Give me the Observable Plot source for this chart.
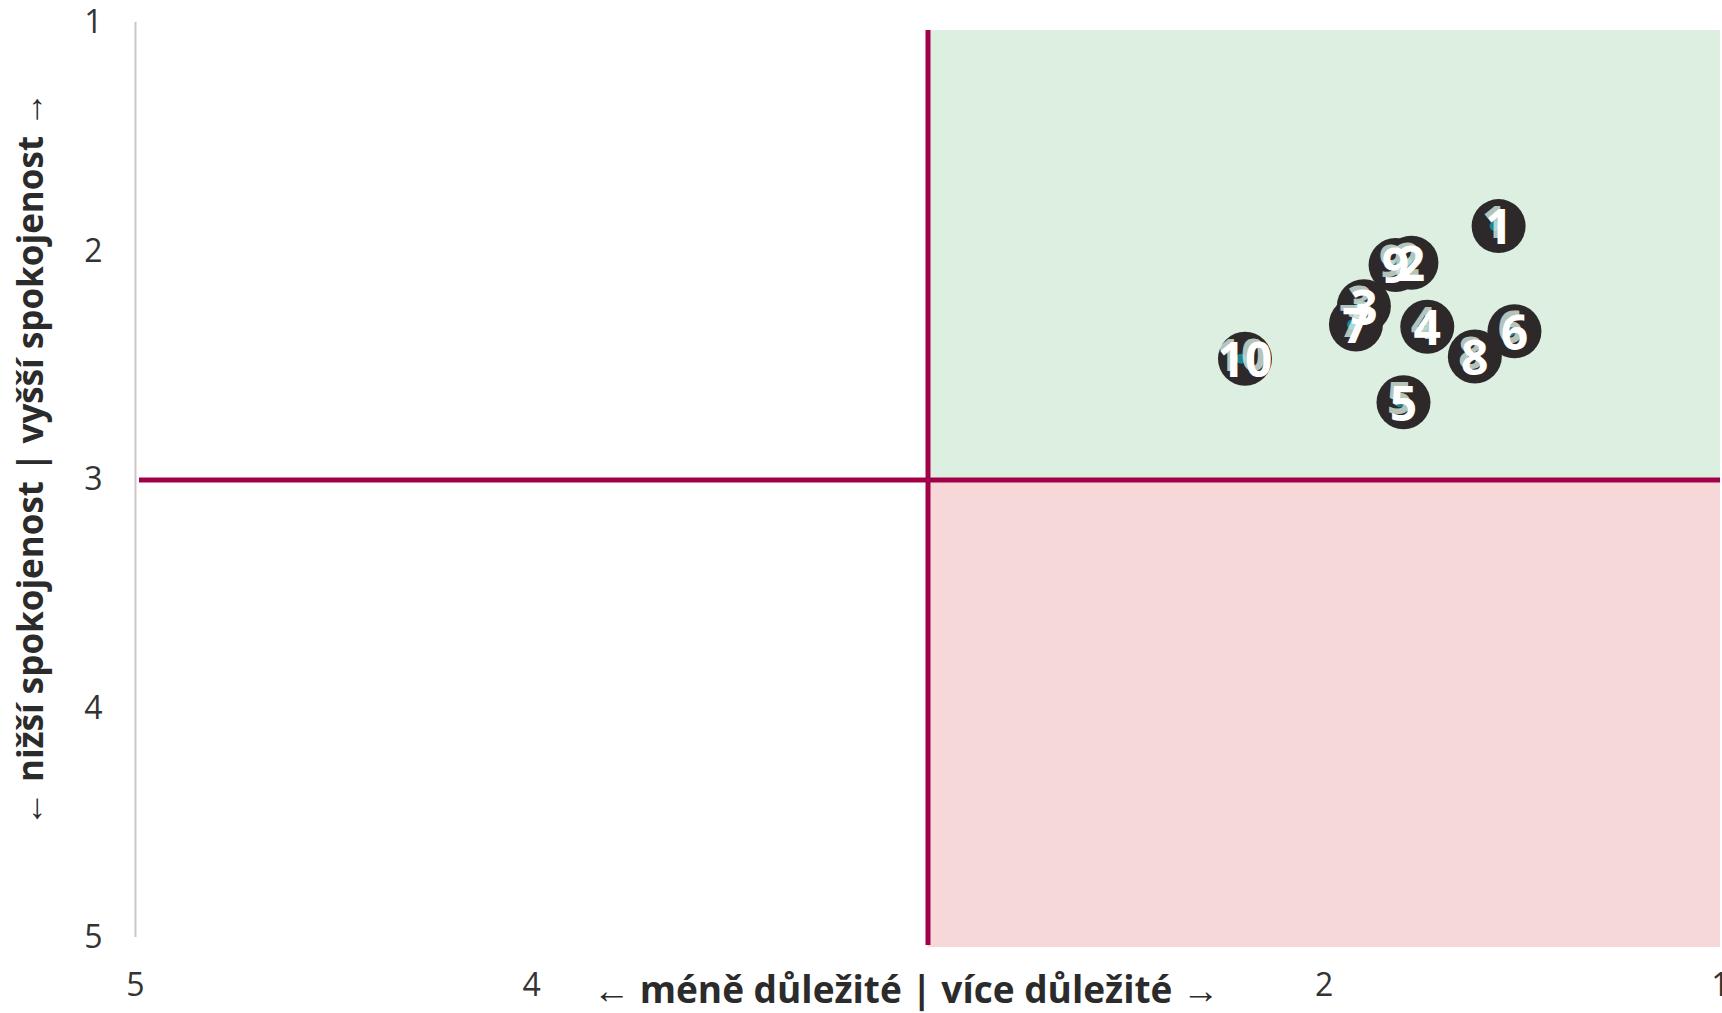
<!DOCTYPE html>
<html>
<head>
<meta charset="utf-8">
<script src="https://cdn.jsdelivr.net/npm/d3@7"></script>
<script src="https://cdn.jsdelivr.net/npm/@observablehq/plot@0.6"></script>
<style>
  html, body { margin: 0; padding: 0; background: #ffffff; }
  #chart svg { display: block; }
</style>
</head>
<body>
<div id="chart"></div>
<script>
// Data
const labels     = ["1", "2", "3", "4", "5", "6", "7", "8", "9", "10"];
const importance = [1.56, 1.78, 1.90, 1.74, 1.80, 1.52, 1.92, 1.62, 1.82, 2.20];
const satisfaction = [1.89, 2.05, 2.24, 2.33, 2.66, 2.35, 2.32, 2.46, 2.06, 2.47];
const xTicks = [5, 4, 2, 1];
const yTicks = [1, 2, 3, 4, 5];
const xTitle = "← méně důležité | více důležité →";
const yTitle = "← nižší spokojenost | vyšší spokojenost →";
const midpoint = 3;
const quadrants = [
  {x1: 3, x2: 1, y1: 1, y2: 3, kind: "good"},
  {x1: 3, x2: 1, y1: 3, y2: 5, kind: "bad"}
];

const points = labels.map((label, i) => ({label, x: importance[i], y: satisfaction[i]}));

const font = "'Open Sans', 'Segoe UI', sans-serif";

const chart = Plot.plot({
  width: 1722,
  height: 1013,
  marginLeft: 135,
  marginRight: 2,
  marginTop: 22,
  marginBottom: 76,
  style: {fontFamily: font, background: "#ffffff", color: "#333333"},
  x: {domain: [5, 1], ticks: xTicks},
  y: {domain: [1, 5], ticks: yTicks, reverse: true},
  marks: [
    Plot.rect(quadrants.filter(d => d.kind === "good"), {x1: "x1", x2: "x2", y1: "y1", y2: "y2", fill: "#dcefe1", insetTop: 8}),
    Plot.rect(quadrants.filter(d => d.kind === "bad"), {x1: "x1", x2: "x2", y1: "y1", y2: "y2", fill: "#f6d8d8", insetBottom: -10}),
    Plot.ruleX([5], {y1: 1, y2: 5, stroke: "#cbc6c6", strokeWidth: 2}),
    Plot.ruleX([midpoint], {y1: 1, y2: 5, stroke: "#a3004a", strokeWidth: 5, insetTop: 8, insetBottom: -8}),
    Plot.ruleY([midpoint], {x1: 5, x2: 1, stroke: "#a3004a", strokeWidth: 5, insetLeft: 4}),
    Plot.axisY(yTicks, {tickSize: 0, tickPadding: 33, fontSize: 32, fill: "#333333", label: null, tickFormat: d3.format("d")}),
    Plot.axisX(xTicks, {tickSize: 0, tickPadding: 36, fontSize: 32, fill: "#333333", label: null, tickFormat: d3.format("d")}),
    Plot.text([xTitle], {frameAnchor: "bottom", dy: 54, dx: -22, fontSize: 37, fontWeight: "bold", fill: "#2b2b2b", lineAnchor: "middle", textAnchor: "middle"}),
    Plot.text([yTitle], {frameAnchor: "left", dx: -104, dy: -21, rotate: -90, fontSize: 35, fontWeight: "bold", fill: "#2b2b2b", lineAnchor: "middle", textAnchor: "middle"}),
    Plot.dot(points, {x: "x", y: "y", r: 27, fill: "#2d292a", stroke: "none"}),
    Plot.dot(points, {x: "x", y: "y", r: 5, fill: "#1b8592", dx: -4, stroke: "none"}),
    Plot.text(points, {x: "x", y: "y", text: "label", dx: -4, dy: -2, fontSize: 44, fontWeight: "bold", fill: "#dcefe1", fillOpacity: 0.8}),
    Plot.text(points, {x: "x", y: "y", text: "label", dy: 3, fontSize: 48, fontWeight: "bold", fill: "#ffffff"})
  ]
});

document.getElementById("chart").appendChild(chart);
</script>
</body>
</html>
